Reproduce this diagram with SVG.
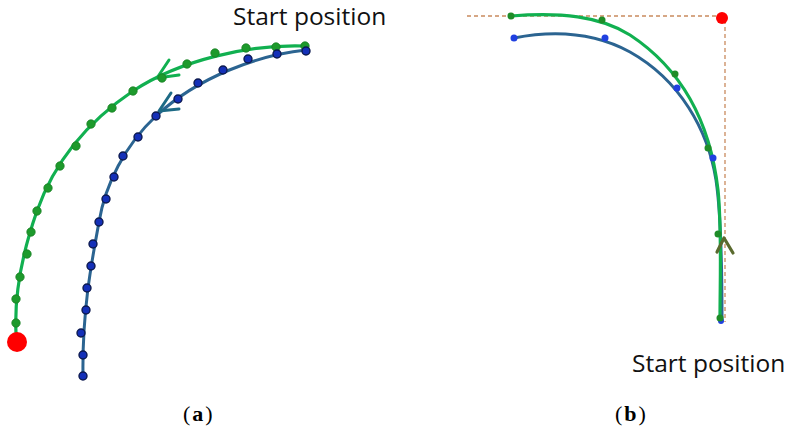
<svg xmlns="http://www.w3.org/2000/svg" width="796" height="435" viewBox="0 0 796 435">
<style>
.lbl{font-family:"Open Sans","Liberation Sans",sans-serif;font-size:24.5px;fill:#111}
.cap{font-family:"Liberation Serif","DejaVu Serif",serif;font-size:22px;letter-spacing:2px;fill:#000}
.gl{fill:none;stroke:#11b050;stroke-width:3.2;stroke-linecap:round}
.bl{fill:none;stroke:#2b6491;stroke-width:3;stroke-linecap:round}
.gd{fill:#1d9a2c;stroke:#187f22;stroke-width:0.8}
.bd{fill:#1430b8;stroke:#0d1a50;stroke-width:1.4}
.gd2{fill:#1f8c28}
.bd2{fill:#2040e0}
.dash{fill:none;stroke:#c98a5e;stroke-width:1.3;stroke-dasharray:4 3}
</style>
<g id="panel-a">
  <g id="connectors-a">
    <path id="green-path-a" class="gl" d="M305,46 C250,44 180,60 133,91 C90,120 55,160 37,211 C25,245 14,290 16,333"/>
    <path id="blue-path-a" class="bl" d="M306,50 C258,55 198,77 156,116 C125,145 105,185 99,222 C92,260 82,310 83,376"/>
    <polyline id="green-arrow-a" points="169,60 157,78 179,75" fill="none" stroke="#11b050" stroke-width="3" stroke-linecap="round" stroke-linejoin="round"/>
    <polyline id="blue-arrow-a" points="171,93 159,111 179,109" fill="none" stroke="#1d6a85" stroke-width="3" stroke-linecap="round" stroke-linejoin="round"/>
  </g>
  <g id="green-dots-a">
    <circle class="gd" cx="305" cy="46" r="4.2"/><circle class="gd" cx="276" cy="47" r="4.2"/><circle class="gd" cx="246" cy="48" r="4.2"/><circle class="gd" cx="215" cy="53" r="4.2"/><circle class="gd" cx="187" cy="64" r="4.2"/><circle class="gd" cx="162" cy="78" r="4.2"/><circle class="gd" cx="133" cy="91" r="4.2"/><circle class="gd" cx="112" cy="108" r="4.2"/><circle class="gd" cx="91" cy="124" r="4.2"/><circle class="gd" cx="76" cy="146" r="4.2"/><circle class="gd" cx="60" cy="166" r="4.2"/><circle class="gd" cx="48" cy="188" r="4.2"/><circle class="gd" cx="37" cy="211" r="4.2"/><circle class="gd" cx="31" cy="232" r="4.2"/><circle class="gd" cx="27" cy="254" r="4.2"/><circle class="gd" cx="20" cy="277" r="4.2"/><circle class="gd" cx="16" cy="299" r="4.2"/><circle class="gd" cx="16" cy="323" r="4.2"/>
  </g>
  <g id="blue-dots-a">
    <circle class="bd" cx="306" cy="51" r="4"/><circle class="bd" cx="277" cy="54" r="4"/><circle class="bd" cx="248" cy="59" r="4"/><circle class="bd" cx="223" cy="70" r="4"/><circle class="bd" cx="198" cy="83" r="4"/><circle class="bd" cx="178" cy="99" r="4"/><circle class="bd" cx="156" cy="116" r="4"/><circle class="bd" cx="138" cy="137" r="4"/><circle class="bd" cx="123" cy="156" r="4"/><circle class="bd" cx="114" cy="177" r="4"/><circle class="bd" cx="106" cy="199" r="4"/><circle class="bd" cx="99" cy="222" r="4"/><circle class="bd" cx="93" cy="244" r="4"/><circle class="bd" cx="91" cy="266" r="4"/><circle class="bd" cx="87" cy="288" r="4"/><circle class="bd" cx="86" cy="310" r="4"/><circle class="bd" cx="81" cy="333" r="4"/><circle class="bd" cx="83" cy="355" r="4"/><circle class="bd" cx="83" cy="376" r="4"/>
  </g>
  <circle id="end-point-a" cx="17" cy="342" r="10" fill="#ff0000"/>
  <text id="start-label-a" class="lbl" x="233" y="25">Start position</text>
  <text id="caption-a" class="cap" x="183" y="421">(<tspan font-weight="bold">a</tspan>)</text>
</g>
<g id="panel-b">
  <g id="guides-b">
    <line class="dash" x1="467" y1="16" x2="722" y2="16"/>
    <line class="dash" x1="725" y1="20" x2="725" y2="322"/>
  </g>
  <g id="connectors-b">
    <path id="blue-path-b" class="bl" d="M514,38 C555,30 595,33 630,52 C680,80 708,130 716,180 C722,220 722,280 722,320"/>
    <path id="green-path-b" class="gl" d="M511,16 C560,12 600,16 630,35 C680,68 710,120 718,190 C722,230 720,280 720,318"/>
    <polyline id="arrow-b" points="717,252 724,238 733,253" fill="none" stroke="#5a6a2e" stroke-width="3.2" stroke-linecap="round" stroke-linejoin="round"/>
  </g>
  <g id="dots-b">
    <circle class="bd2" cx="514" cy="38" r="3.5"/><circle class="bd2" cx="605" cy="38" r="3.5"/><circle class="bd2" cx="677" cy="88" r="3.5"/><circle class="bd2" cx="713" cy="158" r="3.5"/><circle class="bd2" cx="721" cy="321" r="3"/>
    <circle class="gd2" cx="511" cy="16" r="3.5"/><circle class="gd2" cx="602" cy="20" r="3.5"/><circle class="gd2" cx="675" cy="74" r="3.5"/><circle class="gd2" cx="708" cy="148" r="3.5"/><circle class="gd2" cx="718" cy="234" r="3.5"/><circle class="gd2" cx="720" cy="318" r="3.5"/>
  </g>
  <circle id="corner-point-b" cx="722" cy="18" r="6" fill="#ff0000"/>
  <text id="start-label-b" class="lbl" x="632" y="372">Start position</text>
  <text id="caption-b" class="cap" x="615" y="421">(<tspan font-weight="bold">b</tspan>)</text>
</g>
</svg>
